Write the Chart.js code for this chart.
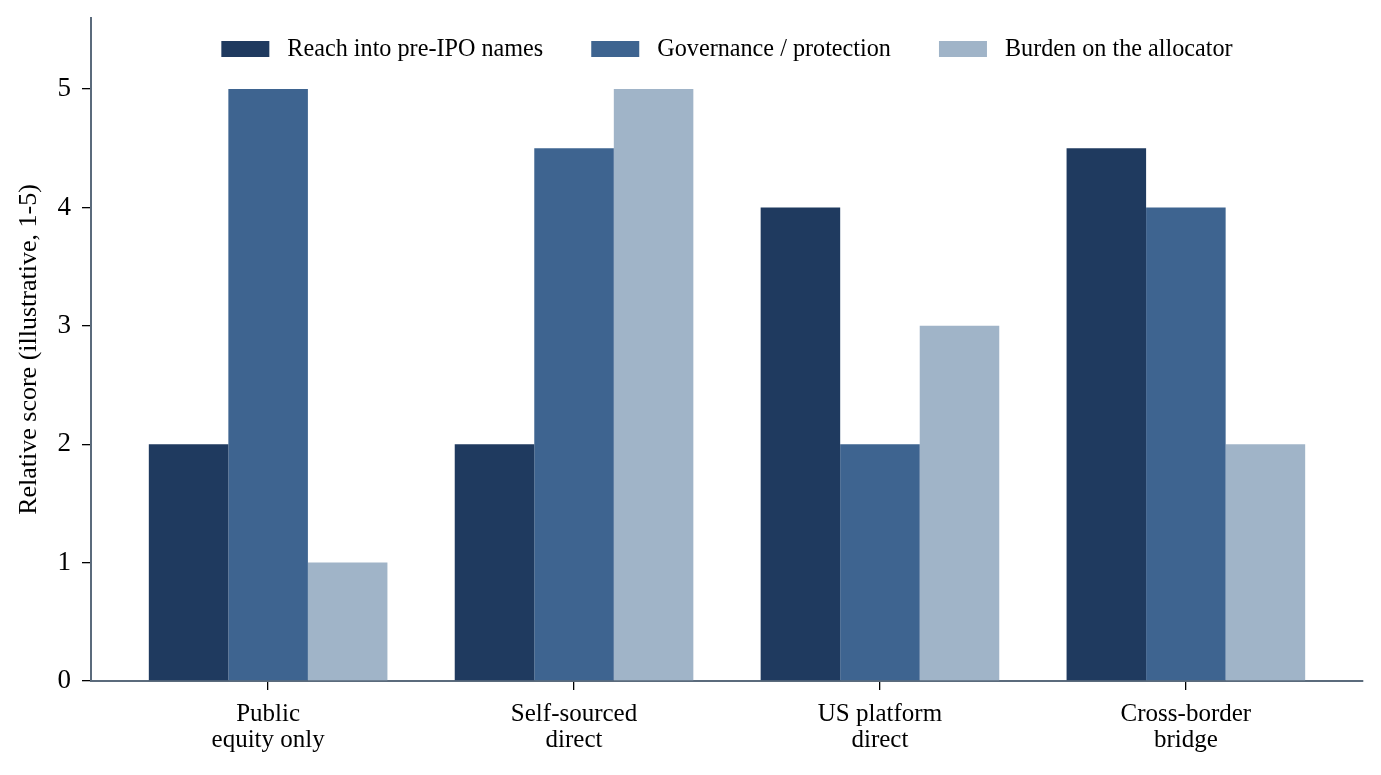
<!DOCTYPE html>
<html><head><meta charset="utf-8">
<script src="https://cdn.jsdelivr.net/npm/chart.js@4.4.1/dist/chart.umd.min.js"></script>
<style>html,body{margin:0;padding:0;background:#fff;overflow:hidden;}</style>
</head><body>
<canvas id="c" width="1381" height="775"></canvas>
<script>
const categories = [["Public", "equity only"], ["Self-sourced", "direct"], ["US platform", "direct"], ["Cross-border", "bridge"]];
const seriesNames = ["Reach into pre-IPO names", "Governance / protection", "Burden on the allocator"];
const reach = [2, 2, 4, 4.5];
const governance = [5, 4.5, 2, 4];
const burden = [1, 5, 3, 2];
const yTicks = [0, 1, 2, 3, 4, 5];
const yTitle = "Relative score (illustrative, 1-5)";
const colors = ["#1f3a5f", "#3e6490", "#a0b4c8"];

const FONT = '"Liberation Serif", "Times New Roman", serif';
Chart.defaults.font.family = FONT;
Chart.defaults.color = '#000';

function toPoints(arr) { return arr.map((v, i) => ({ x: i, y: v })); }
const seriesValues = [reach, governance, burden];

const legendPlugin = {
  id: 'customLegend',
  afterDraw(chart) {
    const ctx = chart.ctx;
    const area = chart.chartArea;
    ctx.save();
    ctx.font = '24.2px ' + FONT;
    const boxW = 48, boxH = 16, gapText = 18, gapItem = 48;
    const widths = seriesNames.map(n => ctx.measureText(n).width);
    let total = widths.reduce((a, b) => a + b, 0) + seriesNames.length * (boxW + gapText) + (seriesNames.length - 1) * gapItem;
    let x = (area.left + area.right) / 2 - total / 2;
    const cy = area.top + 31;
    seriesNames.forEach((n, i) => {
      ctx.fillStyle = chart.data.datasets[i].backgroundColor;
      ctx.fillRect(x, cy - boxH / 2, boxW, boxH);
      x += boxW + gapText;
      ctx.fillStyle = '#000';
      ctx.textBaseline = 'middle';
      ctx.textAlign = 'left';
      ctx.fillText(n, x, cy + 1);
      x += widths[i] + gapItem;
    });
    ctx.restore();
  }
};

new Chart(document.getElementById('c'), {
  type: 'bar',
  data: {
    datasets: seriesNames.map((n, i) => ({
      label: n,
      data: toPoints(seriesValues[i]),
      backgroundColor: colors[i],
      borderWidth: 0,
      categoryPercentage: 0.78,
      barPercentage: 1.0
    }))
  },
  options: {
    responsive: false,
    animation: false,
    devicePixelRatio: 1,
    layout: { padding: { top: 18, right: 18, left: 0, bottom: 0 } },
    plugins: { legend: { display: false }, tooltip: { enabled: false } },
    scales: {
      x: {
        type: 'linear',
        offset: false,
        min: -0.579,
        max: 3.579,
        afterBuildTicks(scale) { scale.ticks = categories.map((c, i) => ({ value: i })); },
        afterFit(scale) { scale.height = 94; scale.paddingLeft = 0; scale.paddingRight = 0; },
        ticks: {
          callback: (v) => categories[v],
          font: { size: 25, lineHeight: 1.05 },
          padding: 11,
          maxRotation: 0,
          autoSkip: false
        },
        grid: { offset: false, drawOnChartArea: false, drawTicks: true, tickLength: 9, color: '#000', lineWidth: 1.3 },
        border: { color: '#5b6b7c', width: 2 }
      },
      y: {
        min: 0,
        max: 5.6,
        afterBuildTicks(scale) { scale.ticks = yTicks.map(v => ({ value: v })); },
        afterFit(scale) { scale.width = 91; scale.paddingTop = 0; scale.paddingBottom = 0; },
        ticks: { font: { size: 27 }, padding: 11 },
        grid: { drawOnChartArea: false, drawTicks: true, tickLength: 9, color: '#000', lineWidth: 1.3 },
        border: { color: '#5b6b7c', width: 2 },
        title: { display: true, text: yTitle, font: { size: 26 }, padding: { top: 14, bottom: 0 } }
      }
    }
  },
  plugins: [legendPlugin]
});
</script>
</body></html>
